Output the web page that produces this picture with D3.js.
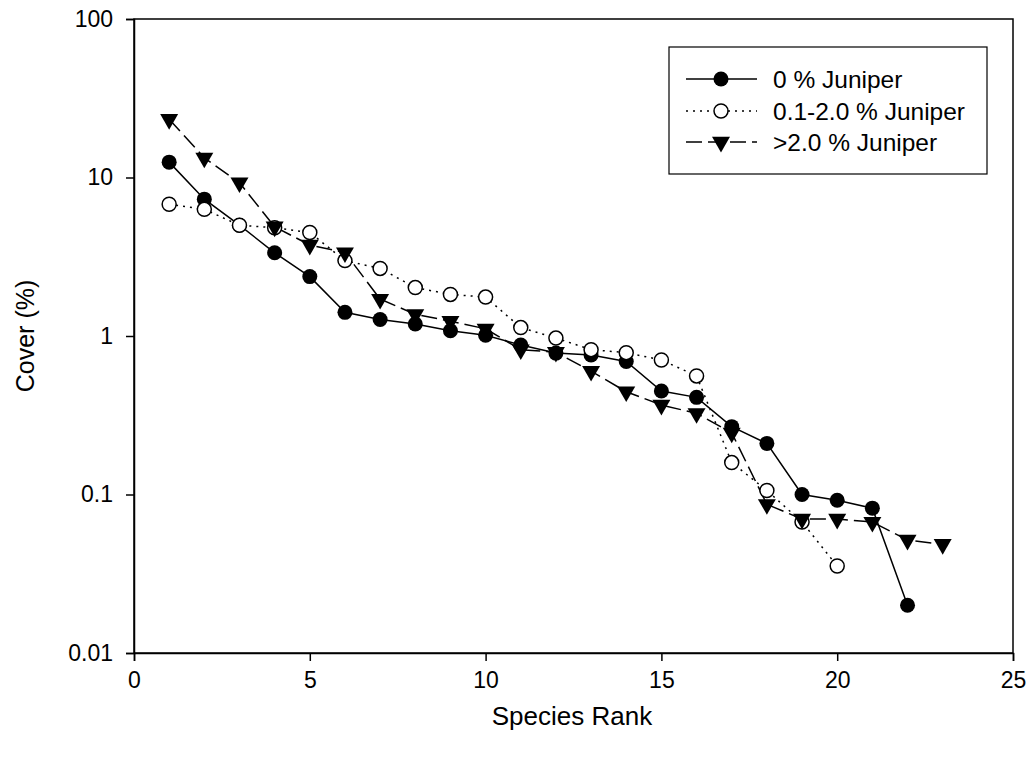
<!DOCTYPE html>
<html>
<head>
<meta charset="utf-8">
<script src="https://cdn.jsdelivr.net/npm/d3@7"></script>
<style>
  body { margin: 0; background: #fff; }
  text { font-family: "Liberation Sans", Arial, sans-serif; fill: #000; }
</style>
</head>
<body>
<div id="chart"></div>
<script>
// cover values, by species rank
var rank0 = [1,2,3,4,5,6,7,8,9,10,11,12,13,14,15,16,17,18,19,20,21,22];
var cover0 = [12.5,7.3,5.0,3.35,2.37,1.41,1.27,1.19,1.08,1.01,0.877,0.78,0.76,0.69,0.45,0.41,0.268,0.21,0.10,0.092,0.082,0.020];

var rank1 = [1,2,3,4,5,6,7,8,9,10,11,12,13,14,15,16,17,18,19,20];
var cover1 = [6.78,6.3,5.0,4.82,4.5,2.99,2.67,2.02,1.83,1.76,1.13,0.97,0.82,0.785,0.706,0.56,0.159,0.106,0.067,0.0354];

var rank2 = [1,2,3,4,5,6,7,8,9,10,11,12,13,14,15,16,17,18,19,20,21,22,23];
var cover2 = [23.3,13.3,9.27,4.89,3.75,3.36,1.71,1.37,1.24,1.11,0.82,0.79,0.60,0.445,0.367,0.325,0.245,0.0867,0.070,0.070,0.067,0.0516,0.0485];

var seriesNames = ["0 % Juniper", "0.1-2.0 % Juniper", ">2.0 % Juniper"];
var xTicks = [0, 5, 10, 15, 20, 25];
var yTicks = [0.01, 0.1, 1, 10, 100];

var width = 1030, height = 758;
var plotLeft = 134, plotRight = 1013, plotTop = 19, plotBottom = 653;

var svg = d3.select("#chart").append("svg")
  .attr("width", width)
  .attr("height", height);

var xScale = d3.scaleLinear().domain([0, 25]).range([plotLeft, plotRight]);
var yScale = d3.scaleLog().domain([0.01, 100]).range([plotBottom, plotTop]);

// frame
svg.append("rect")
  .attr("x", plotLeft).attr("y", plotTop)
  .attr("width", plotRight - plotLeft).attr("height", plotBottom - plotTop)
  .style("fill", "none").style("stroke", "#000").style("stroke-width", 1.5);

var xAxis = svg.append("g")
  .attr("transform", "translate(0," + plotBottom + ")")
  .call(d3.axisBottom(xScale).tickValues(xTicks).tickSize(8).tickPadding(11).tickFormat(d3.format("d")));

var yAxis = svg.append("g")
  .attr("transform", "translate(" + plotLeft + ",0)")
  .call(d3.axisLeft(yScale).tickValues(yTicks).tickSize(8).tickPadding(13).tickFormat(function (d) { return String(d); }));

[xAxis, yAxis].forEach(function (ax) {
  ax.select(".domain").style("stroke", "#000").style("stroke-width", 1.5);
  ax.selectAll(".tick line").style("stroke", "#000").style("stroke-width", 1.5);
  ax.selectAll(".tick text")
    .style("font-family", "'Liberation Sans', Arial, sans-serif")
    .style("font-size", "23px")
    .style("fill", "#000");
});

// axis titles
svg.append("text")
  .attr("x", 572).attr("y", 725)
  .attr("text-anchor", "middle")
  .style("font-size", "26px")
  .text("Species Rank");

svg.append("text")
  .attr("transform", "translate(34," + ((plotTop + plotBottom) / 2) + ") rotate(-90)")
  .attr("text-anchor", "middle")
  .style("font-size", "25px")
  .text("Cover (%)");

var line = d3.line()
  .x(function (d) { return xScale(d[0]); })
  .y(function (d) { return yScale(d[1]); });

var triangle = d3.symbol().type(d3.symbolTriangle).size(140);

var series = [
  { ranks: rank0, values: cover0, dash: null, marker: "filled" },
  { ranks: rank1, values: cover1, dash: "2,5", marker: "open" },
  { ranks: rank2, values: cover2, dash: "16,6", marker: "tri" }
];

function drawMarker(g, type, x, y) {
  if (type === "filled") {
    g.append("circle").attr("cx", x).attr("cy", y).attr("r", 7.5)
      .style("fill", "#000");
  } else if (type === "open") {
    g.append("circle").attr("cx", x).attr("cy", y).attr("r", 7)
      .style("fill", "#fff").style("stroke", "#000").style("stroke-width", 1.5);
  } else {
    g.append("path").attr("d", triangle)
      .attr("transform", "translate(" + x + "," + y + ") rotate(180)")
      .style("fill", "#000");
  }
}

series.forEach(function (s) {
  var pts = s.ranks.map(function (r, i) { return [r, s.values[i]]; });
  svg.append("path")
    .datum(pts)
    .attr("d", line)
    .style("fill", "none")
    .style("stroke", "#000")
    .style("stroke-width", 1.5)
    .style("stroke-dasharray", s.dash);
});

series.forEach(function (s) {
  var g = svg.append("g");
  s.ranks.forEach(function (r, i) {
    drawMarker(g, s.marker, xScale(r), yScale(s.values[i]));
  });
});

// legend
var legend = svg.append("g");
legend.append("rect")
  .attr("x", 669).attr("y", 47)
  .attr("width", 318).attr("height", 127)
  .style("fill", "#fff").style("stroke", "#000").style("stroke-width", 1.2);

var rowY = [79, 111, 142];
series.forEach(function (s, i) {
  legend.append("line")
    .attr("x1", 686).attr("x2", 757)
    .attr("y1", rowY[i]).attr("y2", rowY[i])
    .style("stroke", "#000").style("stroke-width", 1.5)
    .style("stroke-dasharray", s.dash);
  drawMarker(legend, s.marker, 721, rowY[i]);
  legend.append("text")
    .attr("x", 773).attr("y", rowY[i])
    .attr("dy", "0.35em")
    .style("font-size", "24.5px")
    .text(seriesNames[i]);
});
</script>
</body>
</html>
